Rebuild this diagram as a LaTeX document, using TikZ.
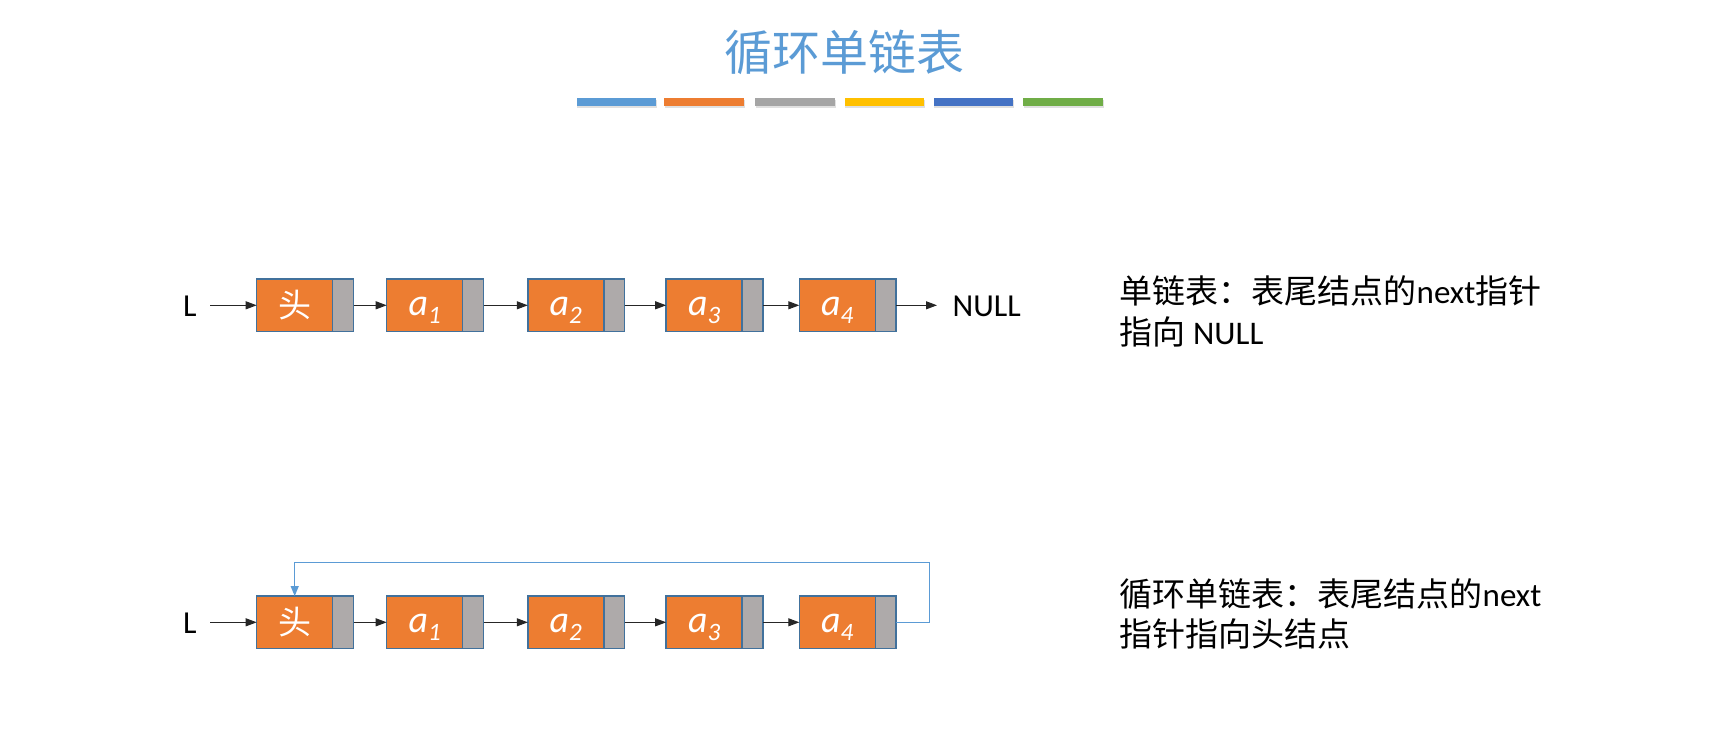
\documentclass[tikz,border=0pt]{standalone}
\usepackage{fontspec}
\setmainfont{Carlito}
\newfontfamily\cjk{Noto Sans CJK SC}
\usetikzlibrary{arrows.meta}
\definecolor{ttl}{HTML}{5B9BD5}
\definecolor{baror}{HTML}{ED7D31}
\definecolor{bargr}{HTML}{A5A5A5}
\definecolor{baryl}{HTML}{FFC000}
\definecolor{barbl}{HTML}{4472C4}
\definecolor{bargn}{HTML}{70AD47}
\definecolor{bordc}{HTML}{41719C}
\definecolor{nodeor}{HTML}{ED7D31}
\definecolor{ptrgray}{HTML}{AEAAAA}
\newcommand{\elem}[1]{\raisebox{-10pt}{\fontsize{38}{38}\selectfont\itshape a\raisebox{-8pt}{\fontsize{25}{25}\selectfont #1}}}
\begin{document}
\begin{tikzpicture}[x=1pt,y=-1pt,
  databox/.style={draw=bordc, line width=1.5pt, fill=nodeor, minimum width=76pt,
    minimum height=52.5pt, inner sep=0pt, outer sep=0pt, text=white,
    font=\fontsize{33}{33}\selectfont},
  elembox/.style={databox, text height=0pt, text depth=0pt},
  ptrbox/.style={draw=bordc, line width=1.5pt, fill=ptrgray, minimum width=20.8pt,
    minimum height=52.5pt, inner sep=0pt, outer sep=0pt, anchor=west},
  link/.style={line width=1pt, draw=black!85, -{Triangle[length=11pt,width=8pt]}},
  looplink/.style={line width=1.1pt, draw=ttl, -{Triangle[length=10pt,width=8pt]}},
  lbl/.style={inner sep=0pt, anchor=base west, font=\fontsize{32}{32}\selectfont},
  desc/.style={inner sep=0pt, anchor=base west, font=\fontsize{33}{33}\selectfont},
  bar/.style={inner sep=0pt, minimum width=79.5pt, minimum height=8pt},
  barshadow/.style={fill=black, opacity=0.12, minimum width=80pt, minimum height=8pt, inner sep=0pt}
]
\useasboundingbox (0,0) rectangle (1712,744);

% title
\node[inner sep=0pt, anchor=base, text=ttl, font=\cjk\fontsize{48}{48}\selectfont] (title) at (844,70) {循环单链表};

% colour bars
\foreach \x/\c [count=\i] in {616.4/ttl, 704.2/baror, 794.8/bargr, 884.4/baryl, 973.3/barbl, 1062.9/bargn}{
  \node[barshadow] (bs\i) at (\x+1,104) {};
  \node[bar, fill=\c] (bar\i) at (\x,102) {};
}

% ---------- top row: singly linked list ----------
\node[lbl] (L1) at (183,316) {L};
\node[databox] (h1) at (294.7,305.3) {\cjk 头};
\node[ptrbox] (h1p) at (h1.east) {};
\node[elembox] (a11) at (424.7,305.3) {\elem{1}};
\node[ptrbox] (a11p) at (a11.east) {};
\node[elembox] (a21) at (565.8,305.3) {\elem{2}};
\node[ptrbox] (a21p) at (a21.east) {};
\node[elembox] (a31) at (704.2,305.3) {\elem{3}};
\node[ptrbox] (a31p) at (a31.east) {};
\node[elembox] (a41) at (837.3,305.3) {\elem{4}};
\node[ptrbox] (a41p) at (a41.east) {};
\node[lbl] (null1) at (952.5,316) {NULL};
\coordinate (L1e) at (210,305.3);
\coordinate (n1e) at (937,305.3);

\draw[link] (L1e) -- (h1.west);
\draw[link] (h1p.east) -- (a11.west);
\draw[link] (a11p.east) -- (a21.west);
\draw[link] (a21p.east) -- (a31.west);
\draw[link] (a31p.east) -- (a41.west);
\draw[link] (a41p.east) -- (n1e);

\node[desc] (d1a) at (1119.5,303) {{\cjk 单链表：表尾结点的}next{\cjk 指针}};
\node[desc] (d1b) at (1119.5,344) {{\cjk 指向} NULL};

% ---------- bottom row: circular linked list ----------
\node[lbl] (L2) at (183,633) {L};
\node[databox] (h2) at (294.7,622.3) {\cjk 头};
\node[ptrbox] (h2p) at (h2.east) {};
\node[elembox] (a12) at (424.7,622.3) {\elem{1}};
\node[ptrbox] (a12p) at (a12.east) {};
\node[elembox] (a22) at (565.8,622.3) {\elem{2}};
\node[ptrbox] (a22p) at (a22.east) {};
\node[elembox] (a32) at (704.2,622.3) {\elem{3}};
\node[ptrbox] (a32p) at (a32.east) {};
\node[elembox] (a42) at (837.3,622.3) {\elem{4}};
\node[ptrbox] (a42p) at (a42.east) {};
\coordinate (L2e) at (210,622.3);
\coordinate (loopc) at (929.3,562.7);

\draw[link] (L2e) -- (h2.west);
\draw[link] (h2p.east) -- (a12.west);
\draw[link] (a12p.east) -- (a22.west);
\draw[link] (a22p.east) -- (a32.west);
\draw[link] (a32p.east) -- (a42.west);
\draw[looplink] (a42p.east) -| (loopc) -| (h2.north);

\node[desc] (d2a) at (1119.5,606) {{\cjk 循环单链表：表尾结点的}next};
\node[desc] (d2b) at (1119.5,646) {{\cjk 指针指向头结点}};
\end{tikzpicture}
\end{document}
